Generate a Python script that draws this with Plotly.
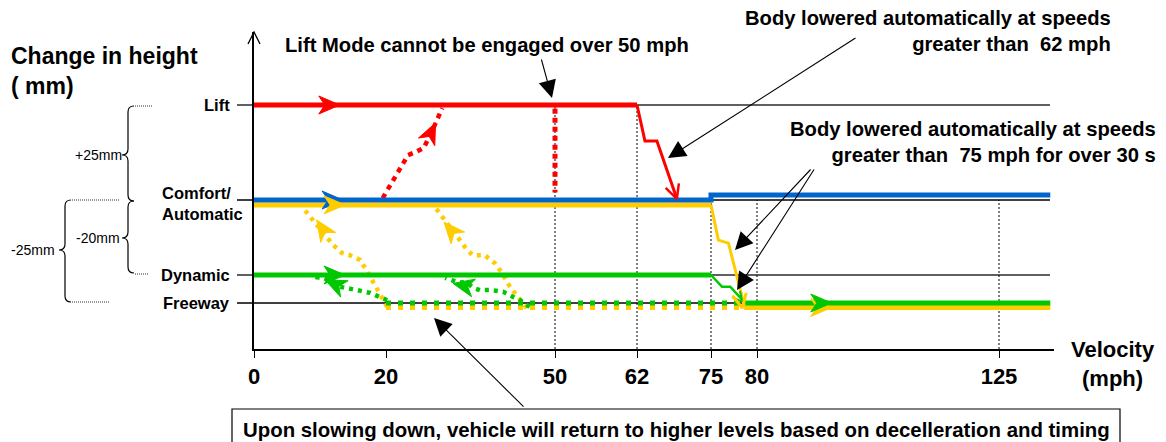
import numpy as np
import plotly.graph_objects as go

# ---------------- data ----------------
speed_ticks = [0, 20, 50, 62, 75, 80, 125]          # mph
level_names = ["Lift", "Comfort/<br>Automatic", "Dynamic", "Freeway"]
level_mm = [25, 0, -20, -25]                          # change in height (mm)
x_end = 134.5                                         # end of drawn lines (mph)

# Lift mode (red)
lift_x = [0, 62]
lift_y = [25, 25]
lift_drop_x = [62, 63.4, 65.5, 69.0]
lift_drop_y = [25, 15.5, 15.5, 0.3]
lift_engage_x = [19.5, 22.6, 23.9, 25.2, 26.7, 28.5, 30.0]
lift_engage_y = [0.5, 8.4, 11.8, 12.6, 13.7, 19.2, 24.2]
lift_limit_x = [50, 50]
lift_limit_y = [24, 2]

# Comfort / Automatic (blue)
comfort_x = [0, 75, 75, x_end]
comfort_y = [0, 0, 1.3, 1.3]

# Dynamic-from-comfort (yellow)
yel_x = [0, 75]
yel_y = [-1.3, -1.3]
yel_drop_x = [75, 75.8, 76.9, 78.6]
yel_drop_y = [-1.3, -10.7, -11.5, -25.4]
yel_fw_x = [78.6, x_end]
yel_fw_y = [-25.8, -25.8]
yel_dot_x = [20, 78.6]
yel_dot_y = [-25.8, -25.8]
yel_ret1_x = [20.2, 18.8, 17.3, 16.1, 14.5, 13.3, 12.0, 10.5, 8.5, 7.7]
yel_ret1_y = [-25.7, -22.7, -19.5, -16.0, -14.7, -14.1, -12.0, -8.8, -4.5, -2.7]
yel_ret2_x = [45.0, 43.8, 42.0, 40.6, 39.3, 37.5, 35.4, 34.4, 33.1, 30.8, 29.2, 28.7]
yel_ret2_y = [-25.9, -24.5, -22.1, -19.5, -16.8, -14.7, -14.7, -13.3, -10.7, -6.1, -3.2, -1.9]

# Dynamic (green)
dyn_x = [0, 75]
dyn_y = [-20, -20]
dyn_drop_x = [75, 76.2, 77.1, 78.2, 78.7]
dyn_drop_y = [-20, -22.1, -22.1, -24.1, -25]
dyn_fw_x = [78.7, x_end]
dyn_fw_y = [-25, -25]
dyn_dot_x = [20, 78.7]
dyn_dot_y = [-25, -25]
dyn_ret1_x = [20.2, 19.1, 17.6, 15.6, 13.0, 12.0, 10.5, 9.5, 8.8]
dyn_ret1_y = [-24.5, -23.9, -23.2, -22.7, -22.1, -21.25, -20.5, -20.4, -20.0]
dyn_ret2_x = [45.5, 43.8, 42.5, 40.8, 38.5, 36.7, 35.5, 34.4, 32.6, 31.7, 30.5]
dyn_ret2_y = [-25.7, -24.5, -23.9, -23.0, -22.7, -22.7, -22.3, -21.4, -21.25, -20.9, -20.5]

# direction arrows: (tip mph, tip mm, from mph, from mm)
red_arrows = [(13.0, 25, 0, 25), (28.8, 20.3, 26.7, 13.7)]
blue_arrows = [(13.5, 0, 0, 0)]
yel_arrows = [(13.8, -1.3, 0, -1.3), (9.5, -5.3, 12.0, -12.0),
              (30.3, -5.9, 33.1, -10.7), (93.9, -25.8, 80, -25.8)]
grn_arrows = [(13.8, -20, 0, -20), (10.8, -20.9, 13.0, -22.1),
              (31.9, -21.5, 35.5, -22.3), (93.9, -25, 80, -25)]
red_open = [(69.0, 0.3, 65.5, 15.5)]
yel_open = [(78.4, -25.9, 76.9, -11.5)]
grn_open = [(78.4, -24.8, 77.1, -22.1)]

# ---------------- scales (schematic, non-linear) ----------------
X_KNOTS_MPH = [0, 20, 50, 62, 75, 80, 125, 135]
X_KNOTS_POS = [0, 132, 301, 383, 457, 503, 745, 799]
Y_KNOTS_MM = [-35, -25, -20, 0, 25, 45]
Y_KNOTS_POS = [-10, 46, 74, 149, 244, 320]


def X(v):
    return np.interp(v, X_KNOTS_MPH, X_KNOTS_POS)


def Y(v):
    return np.interp(v, Y_KNOTS_MM, Y_KNOTS_POS)


W, H = 1166, 442
PLOT_L, PLOT_T, PW, PH = 254, 32, 800, 317          # plot area in page pixels
L_M, T_M = PLOT_L, PLOT_T
R_M, B_M = W - L_M - PW, H - T_M - PH


def ax_x(px):
    return px - PLOT_L


def ax_y(py):
    return (PLOT_T + PH) - py


def pp_x(px):
    return (px - PLOT_L) / PW


def pp_y(py):
    return ((PLOT_T + PH) - py) / PH


RED, BLUE, YEL, GRN = "#FF0000", "#0066CC", "#FFCC00", "#00C800"
FONT = "Liberation Sans, Arial, sans-serif"

fig = go.Figure()


def line(xs, ys, color, width, dash=None):
    fig.add_trace(go.Scatter(x=X(xs), y=Y(ys), mode="lines",
                             line=dict(color=color, width=width, dash=dash),
                             hoverinfo="skip", showlegend=False))


def stealth(spec, color, L=21, Wd=9, notch=6):
    tx, ty, fx, fy = X(spec[0]), Y(spec[1]), X(spec[2]), Y(spec[3])
    dx, dy = tx - fx, ty - fy
    n = np.hypot(dx, dy)
    ux, uy = dx / n, dy / n
    nx, ny = -uy, ux
    bx, by = tx - ux * L, ty - uy * L
    mx, my = tx - ux * (L - notch), ty - uy * (L - notch)
    xs = [tx, bx + nx * Wd, mx, bx - nx * Wd, tx]
    ys = [ty, by + ny * Wd, my, by - ny * Wd, ty]
    fig.add_trace(go.Scatter(x=xs, y=ys, mode="lines", fill="toself",
                             fillcolor=color, line=dict(color=color, width=1),
                             hoverinfo="skip", showlegend=False))


def chevron(spec, color, L=14, Wd=7, width=2.5):
    tx, ty, fx, fy = X(spec[0]), Y(spec[1]), X(spec[2]), Y(spec[3])
    dx, dy = tx - fx, ty - fy
    n = np.hypot(dx, dy)
    ux, uy = dx / n, dy / n
    nx, ny = -uy, ux
    bx, by = tx - ux * L, ty - uy * L
    fig.add_trace(go.Scatter(x=[bx + nx * Wd, tx, bx - nx * Wd],
                             y=[by + ny * Wd, ty, by - ny * Wd], mode="lines",
                             line=dict(color=color, width=width),
                             hoverinfo="skip", showlegend=False))


# dotted return paths
line(yel_ret1_x, yel_ret1_y, YEL, 4.5, "4px,5px")
line(yel_ret2_x, yel_ret2_y, YEL, 4.5, "4px,5px")
line(dyn_ret1_x, dyn_ret1_y, GRN, 4.5, "4px,5px")
line(dyn_ret2_x, dyn_ret2_y, GRN, 4.5, "4px,5px")
line(yel_dot_x, yel_dot_y, YEL, 5, "5px,7px")
line(dyn_dot_x, dyn_dot_y, GRN, 5, "5px,7px")
line(lift_engage_x, lift_engage_y, RED, 4.5, "5px,5px")
line(lift_limit_x, lift_limit_y, RED, 5, "5px,4px")

# solid paths
line(dyn_x, dyn_y, GRN, 5)
line(dyn_drop_x, dyn_drop_y, GRN, 2.5)
line(yel_fw_x, yel_fw_y, YEL, 5)
line(dyn_fw_x, dyn_fw_y, GRN, 5)
line(yel_x, yel_y, YEL, 5)
line(yel_drop_x, yel_drop_y, YEL, 3)
line(comfort_x, comfort_y, BLUE, 5)
line(lift_x, lift_y, RED, 5)
line(lift_drop_x, lift_drop_y, RED, 3)

for a in blue_arrows:
    stealth(a, BLUE)
for a in yel_arrows:
    stealth(a, YEL)
for a in grn_arrows:
    stealth(a, GRN)
for a in red_arrows:
    stealth(a, RED)
chevron(grn_open[0], GRN, L=10, Wd=5, width=2)
chevron(yel_open[0], YEL, L=14, Wd=7, width=3)
chevron(red_open[0], RED, L=14, Wd=7, width=2.5)

shapes = []
# level reference lines
lvl_style = {25: ("#606060", 2), 0: ("black", 1.3), -20: ("#606060", 2), -25: ("black", 1.3)}
for mm in level_mm:
    c, w = lvl_style[mm]
    shapes.append(dict(type="line", xref="paper", yref="y", x0=pp_x(237), x1=pp_x(1050),
                       y0=float(Y(mm)), y1=float(Y(mm)), line=dict(color=c, width=w), layer="below"))
# dotted speed guides
for s, top in [(50, 25), (62, 25), (75, 0), (80, 0), (125, 0)]:
    shapes.append(dict(type="line", xref="x", yref="y", x0=float(X(s)), x1=float(X(s)),
                       y0=0, y1=float(Y(top)), line=dict(color="black", width=1, dash="2px,2px"),
                       layer="below"))
# y-axis arrow head
shapes.append(dict(type="path", xref="paper", yref="paper",
                   path=f"M{pp_x(248)},{pp_y(44)} L{pp_x(254)},{pp_y(32)} L{pp_x(260)},{pp_y(44)}",
                   line=dict(color="black", width=1.3)))


def brace(sx, top, bot, mid, cusp, ex, r=6):
    pts = (f"M{pp_x(ex)},{pp_y(top)} Q{pp_x(sx)},{pp_y(top)} {pp_x(sx)},{pp_y(top + r)} "
           f"L{pp_x(sx)},{pp_y(mid - r)} Q{pp_x(sx)},{pp_y(mid)} {pp_x(cusp)},{pp_y(mid)} "
           f"Q{pp_x(sx)},{pp_y(mid)} {pp_x(sx)},{pp_y(mid + r)} "
           f"L{pp_x(sx)},{pp_y(bot - r)} Q{pp_x(sx)},{pp_y(bot)} {pp_x(ex)},{pp_y(bot)}")
    return dict(type="path", xref="paper", yref="paper", path=pts,
                line=dict(color="black", width=1.2))


shapes.append(brace(128, 106, 201, 155, 122, 134))
shapes.append(brace(128, 201, 273, 238, 122, 134))
shapes.append(brace(65, 200, 302, 250, 59, 71))
for x0, x1, yy in [(135, 153, 106), (72, 120, 200), (135, 148, 274), (72, 110, 302)]:
    shapes.append(dict(type="line", xref="paper", yref="paper", x0=pp_x(x0), x1=pp_x(x1),
                       y0=pp_y(yy), y1=pp_y(yy), line=dict(color="#333333", width=1, dash="1px,1px")))
# bottom note box
shapes.append(dict(type="rect", xref="paper", yref="paper", x0=pp_x(232), x1=pp_x(1120),
                   y0=pp_y(409), y1=pp_y(470), line=dict(color="black", width=1.2),
                   fillcolor="rgba(0,0,0,0)"))

ann = []


def text(t, px, py, size, xanchor="left", align="left", bold=True, color="black"):
    ann.append(dict(text=f"<b>{t}</b>" if bold else t, x=pp_x(px), y=pp_y(py),
                    xref="paper", yref="paper", borderpad=0,
                    xanchor=xanchor, yanchor="middle", align=align, showarrow=False,
                    font=dict(family=FONT, size=size, color=color)))


text("Change in height<br>( mm)", 10, 71, 23)
text("Lift Mode cannot be engaged over 50 mph", 284, 45, 20.2)
text("Body lowered automatically at speeds<br>greater than  62 mph", 1112, 31, 20.2,
     xanchor="right", align="right")
text("Body lowered automatically at speeds<br>greater than  75 mph for over 30 s", 1157, 142, 20.2,
     xanchor="right", align="right")
text("Velocity<br>(mph)", 1113, 364, 22, xanchor="center", align="center")
text("Upon slowing down, vehicle will return to higher levels based on decelleration and timing",
     242, 430, 20.4)
text("+25mm", 98, 155, 14, xanchor="center", bold=False)
text("-20mm", 98, 238, 14, xanchor="center", bold=False)
text("-25mm", 33, 250, 14, xanchor="center", bold=False)

# level labels
for name, mm in zip(level_names, level_mm):
    py = (PLOT_T + PH) - float(Y(mm))
    if "<br>" in name:
        text(name, 161, py + 3, 16.5)
    else:
        text(name, 231, py, 16.5, xanchor="right", align="right")

# callout arrows (tail px -> tip px)
for (tx0, ty0), (hx, hy) in [((541, 58), (552, 98)), ((857, 37), (668, 158)),
                             ((812, 168), (735, 250)), ((815, 168), (737, 290)),
                             ((525, 408), (434, 318))]:
    ann.append(dict(text="", x=ax_x(hx), y=ax_y(hy), ax=ax_x(tx0), ay=ax_y(ty0),
                    xref="x", yref="y", axref="x", ayref="y", showarrow=True,
                    arrowhead=2, arrowsize=3.2, arrowwidth=1.1, arrowcolor="black", standoff=0))

fig.update_layout(
    width=W, height=H, margin=dict(l=L_M, r=R_M, t=T_M, b=B_M),
    paper_bgcolor="white", plot_bgcolor="white", showlegend=False,
    shapes=shapes, annotations=ann,
    xaxis=dict(range=[0, PW], showgrid=False, zeroline=False, showline=True,
               linecolor="black", linewidth=1.5, ticks="outside", ticklen=7,
               tickcolor="black", tickwidth=1,
               tickvals=[float(v) for v in X(speed_ticks)],
               ticktext=[f"<b>{s}</b>" for s in speed_ticks],
               tickfont=dict(family=FONT, size=22, color="black"),
               ticklabelstandoff=0, fixedrange=True),
    yaxis=dict(range=[0, PH], showgrid=False, zeroline=False, showline=True,
               linecolor="black", linewidth=1.5, showticklabels=False, ticks="",
               fixedrange=True),
)

fig.write_html("out.html", config={"displayModeBar": False},
               post_script="document.body.style.margin='0';document.body.style.overflow='hidden';")
